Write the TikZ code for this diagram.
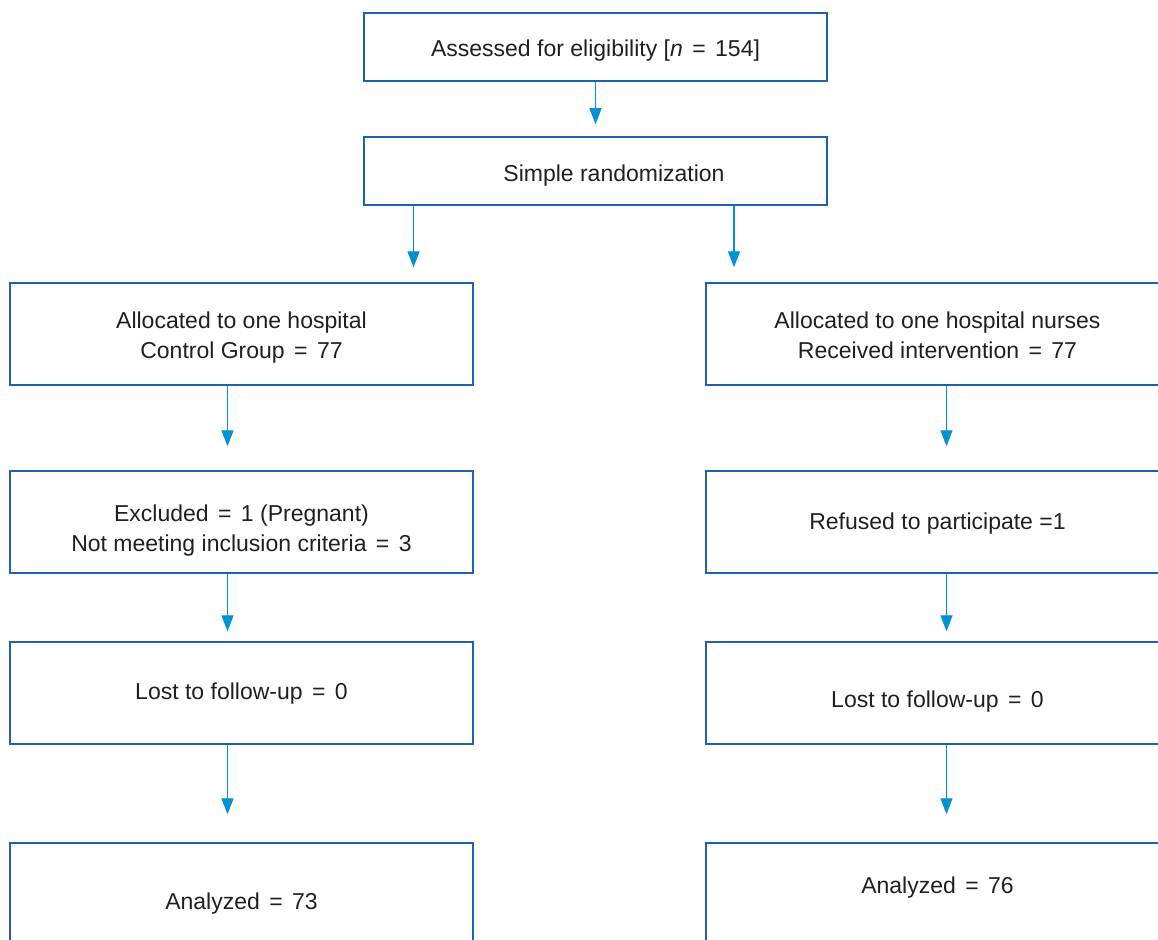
\documentclass[tikz,border=0pt]{standalone}
\usepackage{fontspec}
\setmainfont{Liberation Sans}
\usetikzlibrary{arrows.meta,calc}
\definecolor{bordercol}{RGB}{32,96,172}
\definecolor{arrowcol}{RGB}{0,144,212}
\definecolor{textcol}{RGB}{35,31,32}
\newcommand{\myeq}{\hspace{0.41em}=\hspace{0.41em}}
\begin{document}
\begin{tikzpicture}[x=1pt,y=-1pt,
  flowbox/.style={draw=bordercol, line width=1.5pt, rectangle, minimum width=463pt, inner sep=0pt},
  shortbox/.style={flowbox, minimum height=68pt},
  tallbox/.style={flowbox, minimum height=102pt},
  txt/.style={inner sep=0pt, align=center, text=textcol, font=\fontsize{23}{30}\selectfont},
  arr/.style={draw=arrowcol, line width=1.4pt, -{Triangle[width=12pt,length=16pt]}, arrowcol}]
\useasboundingbox (0,0) rectangle (1158,939);
\clip (0,0) rectangle (1158,939);
\fill[white] (0,0) rectangle (1158,939);

% boxes
\node[shortbox] (top) at (595.5,47) {};
\node[shortbox] (rand) at (595.5,171) {};
\node[tallbox] (L1) at (241.5,334) {};
\node[tallbox] (R1) at (937.5,334) {};
\node[tallbox] (L2) at (241.5,522) {};
\node[tallbox] (R2) at (937.5,522) {};
\node[tallbox] (L3) at (241.5,693) {};
\node[tallbox] (R3) at (937.5,693) {};
\node[tallbox] (L4) at (241.5,894) {};
\node[tallbox] (R4) at (937.5,894) {};

% texts
\node[txt] (topt) at ($(top)+(0,4)$) {Assessed for eligibility [\textit{n}\myeq 154]};
\node[txt] (randt) at ($(rand)+(18.5,5)$) {Simple randomization};
\node[txt] (L1t) at ($(L1)+(0,4)$) {Allocated to one hospital\\Control Group\myeq 77};
\node[txt] (R1t) at ($(R1)+(0,1.5)$) {Allocated to one hospital nurses\\Received intervention\myeq 77};
\node[txt] (L2t) at ($(L2)+(0,8.5)$) {Excluded\myeq 1 (Pregnant)\\Not meeting inclusion criteria\myeq 3};
\node[txt] (R2t) at ($(R2)+(0,2)$) {Refused to participate =1};
\node[txt] (L3t) at ($(L3)+(0,1)$) {Lost to follow-up\myeq 0};
\node[txt] (R3t) at ($(R3)+(0,9)$) {Lost to follow-up\myeq 0};
\node[txt] (L4t) at ($(L4)+(0,10)$) {Analyzed\myeq 73};
\node[txt] (R4t) at ($(R4)+(0,-6)$) {Analyzed\myeq 76};

% connectors
\draw[arr] (top.south) -- ($(rand.north)+(0,-12)$);
\draw[arr] ($(rand.south)+(-182,0)$) -- ($(L1.north)+(172,-15)$);
\draw[arr] ($(rand.south)+(138.5,0)$) -- ($(R1.north)+(-203.5,-15)$);

\draw[arr] ($(L1.south)+(-14,0)$) -- ($(L2.north)+(-14,-24)$);
\draw[arr] ($(R1.south)+(9,0)$) -- ($(R2.north)+(9,-24)$);

\draw[arr] ($(L2.south)+(-14,0)$) -- ($(L3.north)+(-14,-10)$);
\draw[arr] ($(R2.south)+(9,0)$) -- ($(R3.north)+(9,-10)$);

\draw[arr] ($(L3.south)+(-14,0)$) -- ($(L4.north)+(-14,-28)$);
\draw[arr] ($(R3.south)+(9,0)$) -- ($(R4.north)+(9,-28)$);
\end{tikzpicture}
\end{document}
